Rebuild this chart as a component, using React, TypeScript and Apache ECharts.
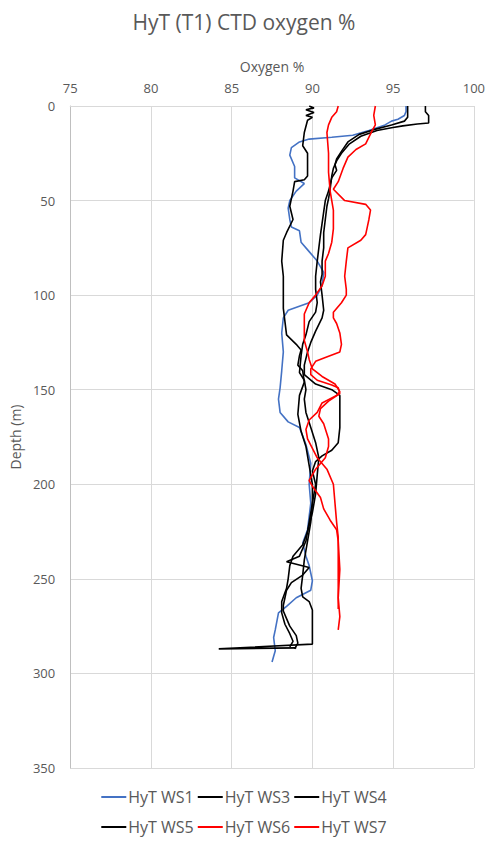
import React, { useEffect, useRef } from "react";
import * as echarts from "echarts";

// [oxygen %, depth m]
const ws1: [number, number][] = [
  [95.8, 0], [95.8, 3], [95.7, 5], [95.3, 7], [94.9, 8], [94.5, 10], [93.5, 13], [92.5, 15.5], [91.2, 16.5], [89.8, 17.5],
  [89.2, 19], [88.7, 22], [88.6, 26], [88.9, 32], [88.9, 38], [89.5, 41], [89.0, 45], [88.6, 50],
  [88.5, 54], [88.6, 60], [88.7, 64], [89.2, 66], [89.3, 72], [89.8, 77], [90.3, 82], [90.7, 88],
  [90.6, 95], [90.3, 100], [89.8, 104], [88.5, 108], [88.2, 112], [88.1, 120], [88.2, 130], [88.1, 140],
  [88.0, 149], [87.9, 155], [88.0, 162], [88.5, 167], [89.2, 170], [89.6, 179], [89.9, 189], [89.8, 200],
  [89.9, 210], [89.7, 224], [89.4, 231], [89.6, 238], [89.8, 243], [90.0, 251], [89.9, 256], [89.0, 260],
  [88.4, 264.5], [87.9, 268], [87.7, 277], [87.6, 281], [87.7, 288], [87.5, 294],
];

const ws3: [number, number][] = [
  [89.8, 0], [90.1, 1], [89.6, 2], [90.1, 3.5], [89.6, 5], [90.0, 6], [89.7, 7.5], [89.5, 14], [89.4, 21],
  [89.7, 25], [89.7, 32], [89.7, 37], [89.5, 39], [88.9, 40], [88.8, 45], [88.7, 49], [88.6, 53],
  [88.8, 60], [88.4, 67], [88.2, 71], [88.1, 82], [88.2, 90], [88.2, 100], [88.2, 107], [88.3, 114],
  [88.4, 121], [89.0, 126], [89.3, 129], [89.2, 132], [89.1, 137], [89.4, 140], [89.5, 146], [89.2, 153],
  [89.1, 163], [89.3, 172], [89.6, 180], [89.8, 190], [90.0, 200], [90.0, 210], [89.9, 220], [89.7, 230],
  [89.5, 240], [89.4, 248], [89.3, 255], [89.4, 259.5], [89.8, 262], [90.0, 266.5], [90.0, 275],
  [90.0, 282], [90.0, 284.5], [84.2, 287], [89.0, 286.5],
];

const ws4: [number, number][] = [
  [97.0, 0], [97.0, 3], [97.2, 5], [97.2, 9], [96.5, 9.5], [95.6, 10.5], [94.9, 11.5], [94.0, 13],
  [93.0, 16], [92.3, 20], [91.8, 25], [91.5, 29], [91.3, 33], [91.2, 37], [91.1, 44], [91.0, 49],
  [90.9, 53], [90.8, 60], [90.7, 67], [90.7, 75], [90.6, 82], [90.6, 89], [90.5, 93], [90.6, 100],
  [90.7, 108], [90.6, 112], [90.2, 119], [89.9, 125], [89.7, 130], [89.5, 137], [89.5, 142], [90.2, 147],
  [91.2, 150], [91.7, 153], [91.7, 160], [91.7, 170], [91.6, 178], [91.2, 182], [90.6, 185], [90.2, 188],
  [90.0, 193], [90.2, 200], [90.0, 210], [89.8, 220], [89.6, 230], [89.2, 238], [88.4, 241], [89.8, 244],
  [89.4, 248], [88.7, 252], [88.4, 256], [88.3, 260], [88.2, 264], [88.2, 267], [88.4, 271], [88.6, 275],
  [89.0, 280], [89.1, 284], [88.9, 287],
];

const ws5: [number, number][] = [
  [95.9, 0], [95.9, 3], [95.9, 6], [95.7, 8], [94.9, 10], [93.8, 12.5], [92.9, 15], [92.2, 19],
  [91.8, 24], [91.5, 28], [91.4, 31], [91.5, 34], [91.2, 38], [91.0, 45], [90.8, 50], [90.7, 56],
  [90.6, 62], [90.5, 68], [90.4, 75], [90.3, 82], [90.2, 90], [90.2, 97], [90.3, 104], [90.2, 109],
  [89.8, 114], [89.6, 121], [89.4, 126], [89.3, 132], [89.2, 141], [89.5, 145], [89.6, 150], [89.5, 155],
  [89.6, 162], [89.9, 170], [90.2, 178], [90.4, 186], [90.3, 195], [90.2, 205], [90.0, 215], [89.7, 225],
  [89.4, 232], [88.8, 238], [88.6, 243], [88.5, 250], [88.4, 255], [88.1, 262], [88.1, 268], [88.3, 274],
  [88.6, 279], [88.8, 283], [88.6, 286],
];

const ws6: [number, number][] = [
  [91.6, 0], [91.5, 3], [91.2, 6], [91.0, 10], [90.9, 14], [91.0, 25], [91.0, 35], [91.1, 45],
  [91.3, 55], [91.3, 65], [91.2, 72], [91.0, 78], [90.8, 82], [90.8, 90], [90.6, 95], [90.2, 100],
  [89.8, 104], [89.5, 110], [89.5, 118], [89.5, 124], [89.7, 130], [89.8, 134], [90.0, 139], [90.6, 143],
  [91.4, 147], [91.7, 151], [91.5, 153], [90.6, 157], [90.3, 162], [89.8, 166], [89.6, 171], [89.7, 176],
  [90.3, 186], [90.9, 192], [91.3, 200], [91.4, 210], [91.5, 220], [91.6, 228], [91.6, 240], [91.6, 255],
  [91.6, 266],
];

const ws7: [number, number][] = [
  [93.9, 0], [93.8, 5], [93.9, 10], [93.7, 13], [93.3, 20], [92.7, 23], [92.2, 27], [91.9, 33],
  [91.6, 40], [91.3, 44], [92.0, 50], [93.3, 52], [93.6, 55], [93.5, 60], [93.4, 64], [93.3, 68],
  [93.0, 71], [92.2, 75], [92.1, 82], [92.0, 90], [92.1, 97], [92.1, 100], [91.8, 104], [91.3, 109],
  [91.3, 112], [91.5, 115], [91.7, 120], [91.8, 126], [91.7, 130], [90.8, 133], [90.2, 135], [89.9, 139],
  [89.9, 142], [90.3, 145], [91.2, 147.5], [91.6, 149], [91.7, 152], [91.0, 156], [90.5, 160], [90.4, 164],
  [90.7, 168], [91.0, 176], [91.0, 180], [90.8, 186], [90.2, 192], [89.8, 198], [90.0, 201], [90.5, 207],
  [90.7, 213], [91.1, 219], [91.5, 224], [91.6, 230], [91.7, 245], [91.6, 260], [91.7, 270], [91.6, 277],
];

const seriesNames = ["HyT WS1", "HyT WS3", "HyT WS4", "HyT WS5", "HyT WS6", "HyT WS7"];
const seriesData = [ws1, ws3, ws4, ws5, ws6, ws7];
const seriesColors = ["#4472C4", "#000000", "#000000", "#000000", "#FF0000", "#FF0000"];

const xTicks = { min: 75, max: 100, interval: 5 };
const yTicks = { min: 0, max: 350, interval: 50 };

const FONT = "'Open Sans', 'Noto Sans', sans-serif";
const GREY = "#595959";

const legendText = { fontFamily: FONT, fontSize: 16, lineHeight: 18, color: GREY, padding: [0, 0, 0, -3] };

export default function App() {
  const ref = useRef<HTMLDivElement>(null);
  useEffect(() => {
    if (!ref.current) return;
    const chart = echarts.init(ref.current, undefined, { renderer: "svg" });
    chart.setOption({
      animation: false,
      backgroundColor: "#ffffff",
      textStyle: { fontFamily: FONT },
      title: {
        text: "HyT (T1) CTD oxygen %",
        left: "center",
        top: 6,
        textStyle: { fontFamily: FONT, fontSize: 21, fontWeight: "normal", color: GREY },
      },
      legend: [
        {
          data: seriesNames.slice(0, 3),
          top: 788,
          left: "center",
          padding: 0,
          icon: "rect",
          itemWidth: 25,
          itemHeight: 2,
          itemGap: 4,
          textStyle: legendText,
        },
        {
          data: seriesNames.slice(3, 6),
          top: 818,
          left: "center",
          padding: 0,
          icon: "rect",
          itemWidth: 25,
          itemHeight: 2,
          itemGap: 4,
          textStyle: legendText,
        },
      ],
      grid: { left: 69, right: 12, top: 106, bottom: 73, containLabel: false },
      xAxis: {
        type: "value",
        position: "top",
        min: xTicks.min,
        max: xTicks.max,
        interval: xTicks.interval,
        name: "Oxygen %",
        nameLocation: "middle",
        nameGap: 33,
        nameTextStyle: { fontFamily: FONT, fontSize: 14, color: GREY },
        axisLine: { show: true, lineStyle: { color: "#d9d9d9" } },
        axisTick: { show: false },
        axisLabel: { fontFamily: FONT, fontSize: 13, color: GREY, margin: 12 },
        splitLine: { show: true, lineStyle: { color: "#d9d9d9", width: 1 } },
      },
      yAxis: {
        type: "value",
        inverse: true,
        min: yTicks.min,
        max: yTicks.max,
        interval: yTicks.interval,
        name: "Depth (m)",
        nameLocation: "middle",
        nameRotate: 90,
        nameGap: 40,
        nameTextStyle: { fontFamily: FONT, fontSize: 14, color: GREY },
        axisLine: { show: true, lineStyle: { color: "#bfbfbf" } },
        axisTick: { show: false },
        axisLabel: { fontFamily: FONT, fontSize: 13, color: GREY, margin: 15 },
        splitLine: { show: true, lineStyle: { color: "#d9d9d9", width: 1 } },
      },
      series: seriesNames.map((name, i) => ({
        name,
        type: "line",
        data: seriesData[i],
        symbol: "none",
        color: seriesColors[i],
        lineStyle: { color: seriesColors[i], width: 1.6 },
        clip: true,
      })),
    });
    return () => chart.dispose();
  }, []);
  return (
    <div
      ref={ref}
      style={{ position: "fixed", left: 0, top: 0, width: 488, height: 841, background: "#fff" }}
    />
  );
}
